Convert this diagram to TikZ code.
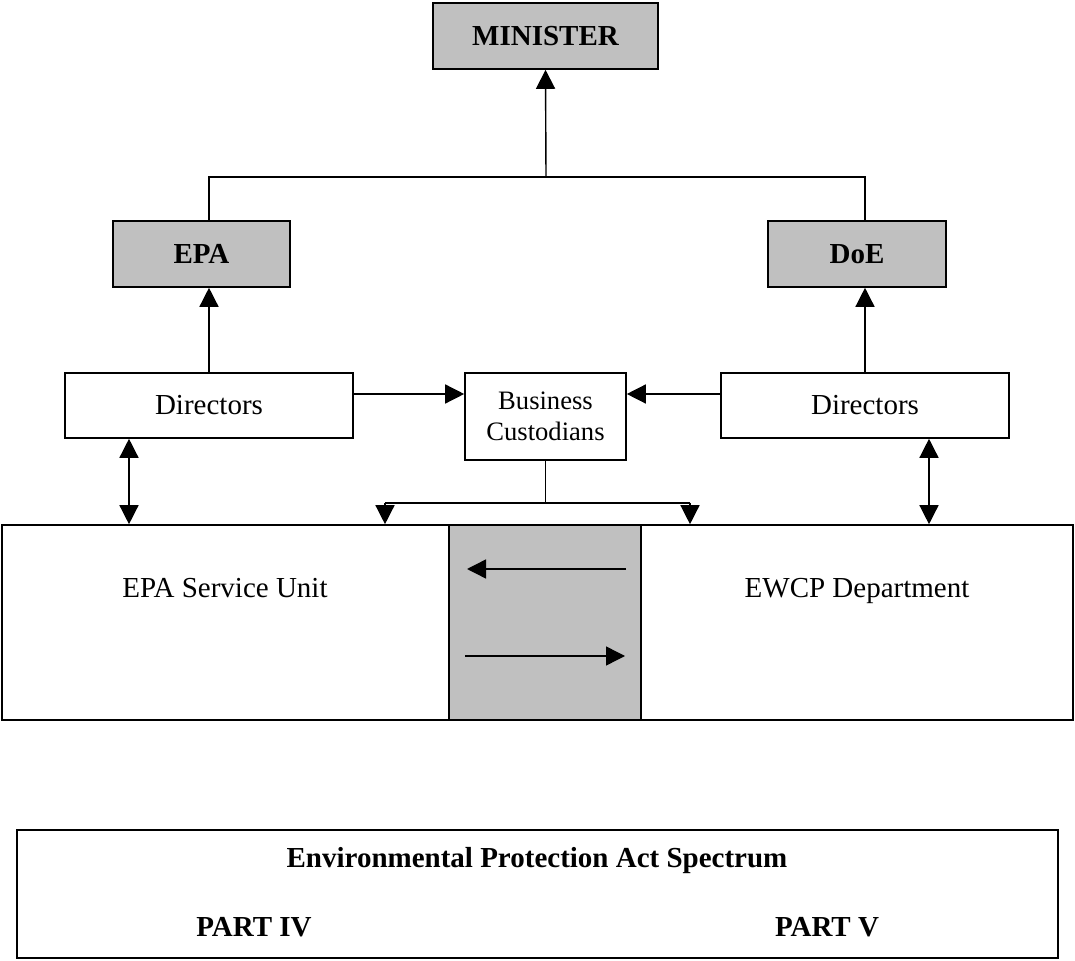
\documentclass[tikz,border=0pt]{standalone}
\usepackage{fontspec}
\setmainfont{Liberation Serif}
\usetikzlibrary{arrows.meta}
\definecolor{boxgrey}{RGB}{192,192,192}

\begin{document}
\begin{tikzpicture}[x=0.5pt,y=-0.5pt,
  box/.style={draw,line width=0.8pt,inner sep=0pt,font=\fontsize{14.5}{17}\selectfont},
  head/.style={box,fill=boxgrey,font=\fontsize{14.5}{17}\selectfont\bfseries},
  bold/.style={font=\fontsize{14.5}{17}\selectfont\bfseries},
  link/.style={line width=0.7pt},
  arr/.style={link,-{Triangle[length=9.5pt,width=9.5pt]}},
  arrr/.style={link,{Triangle[length=9.5pt,width=9.5pt]}-{Triangle[length=9.5pt,width=9.5pt]}}]
  \useasboundingbox (0,0) rectangle (1075,961);
  \node[head,minimum width=112.5pt,minimum height=33pt] (minister) at (545.5,36) {MINISTER};
  \node[head,minimum width=88.5pt,minimum height=33pt] (epa) at (201.5,254) {EPA};
  \node[head,minimum width=89pt,minimum height=33pt] (doe) at (857,254) {DoE};
  \node[box,minimum width=144pt,minimum height=32.5pt] (dirl) at (209,405.5) {Directors};
  \node[box,minimum width=144pt,minimum height=32.5pt] (dirr) at (865,405.5) {Directors};
  \node[box,minimum width=80.5pt,minimum height=43.5pt,align=center,
    font=\fontsize{13.3}{15.5}\selectfont] (bus) at (545.5,416.5) {Business\\Custodians};
  % service unit, exchange and department
  \node[box,minimum width=223.5pt,minimum height=97.5pt] (unit) at (225.5,622.5) {};
  \node[box,minimum width=216pt,minimum height=97.5pt] (dept) at (857,622.5) {};
  \node[box,fill=boxgrey,minimum width=96pt,minimum height=97.5pt] (mid) at (545,622.5) {};
  \node[anchor=base,font=\fontsize{14.5}{17}\selectfont] (unittext) at (225,597) {EPA Service Unit};
  \node[anchor=base,font=\fontsize{14.5}{17}\selectfont] (depttext) at (857,597) {EWCP Department};
  % act spectrum
  \node[box,minimum width=520.5pt,minimum height=64pt] (act) at (537.5,894) {};
  \node[anchor=base,bold] (acttitle) at (537,867) {Environmental Protection Act Spectrum};
  \node[anchor=base,bold] (part4) at (254,936) {PART IV};
  \node[anchor=base,bold] (part5) at (827,936) {PART V};
  % connectors
  \coordinate (top) at (546,177);
  \draw[link] (dirl.north |- epa.north) |- (top) -| (dirr.north |- doe.north);
  \draw[arr] (top) -- (minister.south);
  \draw[arr] (dirl.north) -- (dirl.north |- epa.south);
  \draw[arr] (dirr.north) -- (dirr.north |- doe.south);
  \coordinate (hline) at (0,394);
  \draw[arr] (dirl.east |- hline) -- (bus.west |- hline);
  \draw[arr] (dirr.west |- hline) -- (bus.east |- hline);
  \coordinate (spl) at (385,503);
  \coordinate (spr) at (690,503);
  \draw[link] (bus.south) -- (bus.south |- spl);
  \draw[link] (spl) -- (spr);
  \draw[arr] (spl) -- (spl |- unit.north);
  \draw[arr] (spr) -- (spr |- dept.north);
  \coordinate (lnk) at (129,0);
  \coordinate (rnk) at (929,0);
  \draw[arrr] (lnk |- dirl.south) -- (lnk |- unit.north);
  \draw[arrr] (rnk |- dirr.south) -- (rnk |- dept.north);
  \draw[arr] (626,569) -- (467,569);
  \draw[arr] (465,656) -- (625,656);
\end{tikzpicture}
\end{document}
